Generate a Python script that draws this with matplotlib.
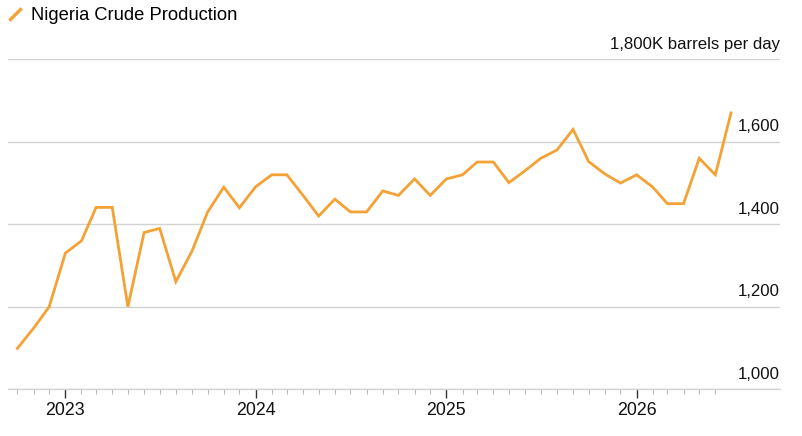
import matplotlib
matplotlib.use("Agg")
import matplotlib.pyplot as plt
import matplotlib.dates as mdates
import matplotlib.transforms as mtransforms
from matplotlib.lines import Line2D
import pandas as pd

# Nigeria crude production, thousand barrels per day (monthly)
months = pd.date_range("2022-10-01", periods=46, freq="MS")
production = [1099, 1148, 1200, 1330, 1360, 1441, 1441, 1200, 1380, 1390,
              1261, 1335, 1430, 1490, 1440, 1491, 1520, 1520, 1470, 1420,
              1461, 1430, 1430, 1481, 1470, 1510, 1470, 1510, 1520, 1551,
              1551, 1501, 1530, 1560, 1580, 1630, 1552, 1522, 1500, 1520,
              1490, 1450, 1450, 1560, 1520, 1670]
y_ticks = [1000, 1200, 1400, 1600, 1800]
y_labels = ["1,000", "1,200", "1,400", "1,600", "1,800K barrels per day"]
series_name = "Nigeria Crude Production"

orange = "#F4A135"
grid_col = "#d2d2d2"
plt.rcParams["font.family"] = ["Liberation Sans", "DejaVu Sans"]

fig = plt.figure(figsize=(8.03, 4.36), dpi=100)
W, H = 803, 436
ax = fig.add_axes([8 / W, (H - 389.3) / H, (780 - 8) / W, (389.3 - 59.3) / H])

ax.plot(months, production, color=orange, lw=2.0, solid_joinstyle="miter")

ax.set_ylim(1000, 1800)
ax.set_xlim(pd.Timestamp("2022-09-13"), pd.Timestamp("2026-10-03"))

# gridlines
for v in y_ticks:
    ax.axhline(v, color=grid_col, lw=1, zorder=0)
ax.set_yticks([])
for s in ["top", "right", "left"]:
    ax.spines[s].set_visible(False)
ax.spines["bottom"].set_color(grid_col)
ax.spines["bottom"].set_linewidth(1)

# y labels sit above the gridlines on the right
off = mtransforms.offset_copy(ax.get_yaxis_transform(), fig=fig, x=0, y=7.5, units="points")
for v, lab in zip(y_ticks, y_labels):
    ax.text(1.0, v, lab, transform=off, ha="right", va="baseline",
            fontsize=12.1, color="#111111")

# x axis
ax.xaxis.set_major_locator(mdates.YearLocator())
ax.xaxis.set_major_formatter(mdates.DateFormatter("%Y"))
minor = pd.date_range("2022-10-01", "2026-06-01", freq="MS")
ax.xaxis.set_minor_locator(matplotlib.ticker.FixedLocator(mdates.date2num(minor)))
ax.tick_params(axis="x", which="major", length=6.5, width=1, color="#333333",
               labelsize=12.8, pad=2.5, labelcolor="#111111")
ax.tick_params(axis="x", which="minor", length=3.5, width=0.8, color="#bbbbbb")

# legend
handle = Line2D([], [], color=orange, linestyle="none", marker=(2, 0, -45),
                markersize=12.5, markeredgewidth=2.4)
fig.legend([handle], [series_name], loc="upper left", bbox_to_anchor=(0, 1),
           frameon=False, fontsize=13.2, handlelength=0.85, handletextpad=0.45,
           borderaxespad=0.15, borderpad=0.25)

fig.savefig("out.png", dpi=100)
